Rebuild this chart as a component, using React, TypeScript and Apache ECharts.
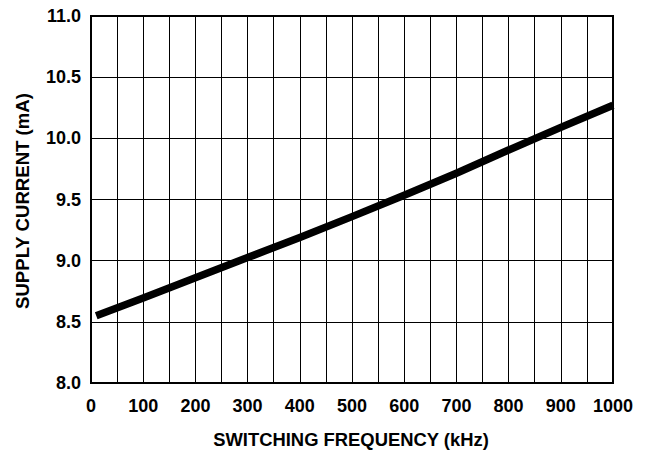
import React, { useEffect, useRef } from "react";
import * as echarts from "echarts";

const freqKHz = [10, 100, 200, 300, 400, 500, 600, 700, 800, 900, 1000];
const supplyCurrentMA = [8.55, 8.695, 8.86, 9.025, 9.19, 9.36, 9.535, 9.715, 9.905, 10.09, 10.27];
const xTitle = "SWITCHING FREQUENCY (kHz)";
const yTitle = "SUPPLY CURRENT (mA)";

const FONT = "'Liberation Sans', Arial, Helvetica, sans-serif";

export default function App() {
  const ref = useRef<HTMLDivElement>(null);
  useEffect(() => {
    if (!ref.current) return;
    const chart = echarts.init(ref.current, undefined, { renderer: "svg" });
    const data = freqKHz.map((f, i) => [f, supplyCurrentMA[i]]);
    chart.setOption({
      animation: false,
      backgroundColor: "#ffffff",
      grid: {
        left: 91,
        right: 33,
        top: 16,
        bottom: 73,
        show: true,
        borderColor: "#000",
        borderWidth: 2,
        containLabel: false,
      },
      xAxis: {
        type: "value",
        min: 0,
        max: 1000,
        interval: 50,
        axisLine: { show: false },
        axisTick: { show: false },
        splitLine: { show: true, lineStyle: { color: "#000", width: 1 } },
        axisLabel: {
          margin: 14,
          color: "#000",
          fontFamily: FONT,
          fontWeight: "bold",
          fontSize: 18,
          formatter: (v: number) => (v % 100 === 0 ? String(v) : ""),
        },
      },
      yAxis: {
        type: "value",
        min: 8,
        max: 11,
        interval: 0.5,
        axisLine: { show: false },
        axisTick: { show: false },
        splitLine: { show: true, lineStyle: { color: "#000", width: 1 } },
        axisLabel: {
          margin: 10,
          color: "#000",
          fontFamily: FONT,
          fontWeight: "bold",
          fontSize: 18,
          formatter: (v: number) => v.toFixed(1),
        },
      },
      graphic: [
        {
          type: "text",
          x: 351,
          y: 439,
          style: {
            text: xTitle,
            fill: "#000",
            font: `bold 18.4px ${FONT}`,
            textAlign: "center",
            textVerticalAlign: "middle",
          },
        },
        {
          type: "text",
          x: 22,
          y: 201,
          rotation: Math.PI / 2,
          style: {
            text: yTitle,
            fill: "#000",
            font: `bold 18.6px ${FONT}`,
            textAlign: "center",
            textVerticalAlign: "middle",
          },
        },
      ],
      series: [
        {
          type: "line",
          data,
          smooth: false,
          showSymbol: false,
          symbol: "none",
          lineStyle: { color: "#000", width: 7.5, cap: "butt", join: "round" },
        },
      ],
    });
    return () => chart.dispose();
  }, []);
  return (
    <div
      ref={ref}
      style={{ position: "absolute", left: 0, top: 0, width: 646, height: 456 }}
    />
  );
}
